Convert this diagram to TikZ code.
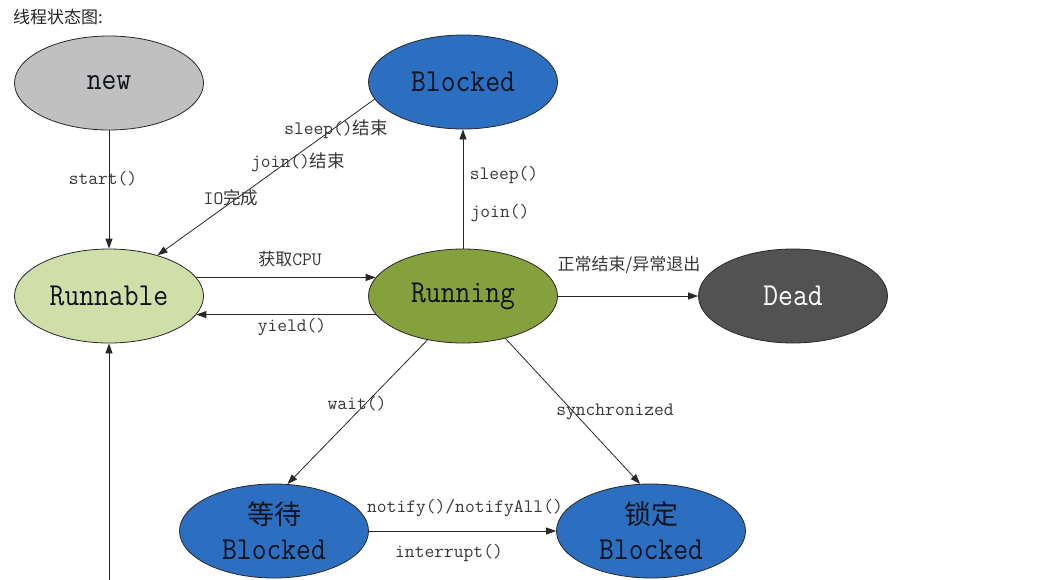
\documentclass[tikz,border=0pt]{standalone}
\usepackage{fontspec}
\setmainfont{Liberation Serif}
\newfontfamily\cjk{Noto Sans CJK SC}
\newfontfamily\lblmono{Latin Modern Mono}
\newfontfamily\nodefont[FakeStretch=0.9]{Latin Modern Mono}
\usetikzlibrary{shapes.geometric,arrows.meta}
\definecolor{cnew}{RGB}{192,192,192}
\definecolor{cblue}{RGB}{44,110,192}
\definecolor{crun}{RGB}{132,161,62}
\definecolor{crunnable}{RGB}{208,222,170}
\definecolor{cdead}{RGB}{82,82,82}
\definecolor{clbl}{RGB}{55,55,55}
\definecolor{cline}{RGB}{40,40,40}
\definecolor{ctxt}{RGB}{15,20,30}
\tikzset{
  state/.style={ellipse, draw=cline, line width=0.8pt, minimum width=189pt, minimum height=94pt, inner sep=0pt,
    font=\nodefont\fontsize{32}{35}\selectfont, text=ctxt, align=center},
  lbl/.style={font=\lblmono\fontsize{19}{21}\selectfont, text=clbl, inner sep=0pt},
  edge/.style={draw=cline, line width=0.8pt, -{Triangle[length=10pt,width=7pt]}},
}
\begin{document}
\begin{tikzpicture}[x=1pt,y=-1pt]
\useasboundingbox (0,0) rectangle (1058,579);
\node[anchor=west, inner sep=0pt, font=\cjk\fontsize{17}{19}\selectfont, text=black!85] (title) at (13,17) {线程状态图:};

\node[state, fill=cnew] (new) at (109,83) {new};
\node[state, fill=cblue] (blk) at (463,82) {Blocked};
\node[state, fill=crunnable] (runnable) at (109,296) {Runnable};
\node[state, fill=crun] (running) at (463,296) {Running};
\node[state, fill=cdead, text=white] (dead) at (793,296) {Dead};
\node[state, fill=cblue] (wait) at (274,531) {{\cjk\fontsize{27}{35}\selectfont 等待}\\Blocked};
\node[state, fill=cblue] (lock) at (651,531) {{\cjk\fontsize{27}{35}\selectfont 锁定}\\Blocked};
\coordinate (bot) at (109,582);

\draw[edge] (new) -- (runnable);
\draw[edge] (blk.191) -- (runnable.40);
\draw[edge] (runnable.12) -- (running.168);
\draw[edge] (running.192) -- (runnable.348);
\draw[edge] (running) -- (blk);
\draw[edge] (running) -- (dead);
\draw[edge] (running.231) -- (wait.74);
\draw[edge] (running.315) -- (lock.103);
\draw[edge] (wait) -- (lock);
\draw[edge] (bot) -- (runnable);

\node[lbl] (l1) at (103,179) {start()};
\node[lbl] (l2) at (336,129) {sleep(){\cjk\fontsize{17.5}{19}\selectfont 结束}};
\node[lbl] (l3) at (298,162) {join(){\cjk\fontsize{17.5}{19}\selectfont 结束}};
\node[lbl] (l4) at (231,198) {IO{\cjk\fontsize{17.5}{19}\selectfont 完成}};
\node[lbl, font=\cjk\fontsize{17}{19}\selectfont] (l5) at (290,259) {获取{\lblmono\fontsize{19}{21}\selectfont CPU}};
\node[lbl] (l6) at (292,327) {yield()};
\node[lbl] (l7) at (504,175) {sleep()};
\node[lbl] (l8) at (500,213) {join()};
\node[lbl, font=\cjk\fontsize{17}{19}\selectfont] (l9) at (629,265) {正常结束/异常退出};
\node[lbl] (l10) at (357,404) {wait()};
\node[lbl] (l11) at (615,412) {synchronized};
\node[lbl] (l12) at (465,508) {notify()/notifyAll()};
\node[lbl] (l13) at (449,553) {interrupt()};
\end{tikzpicture}
\end{document}
